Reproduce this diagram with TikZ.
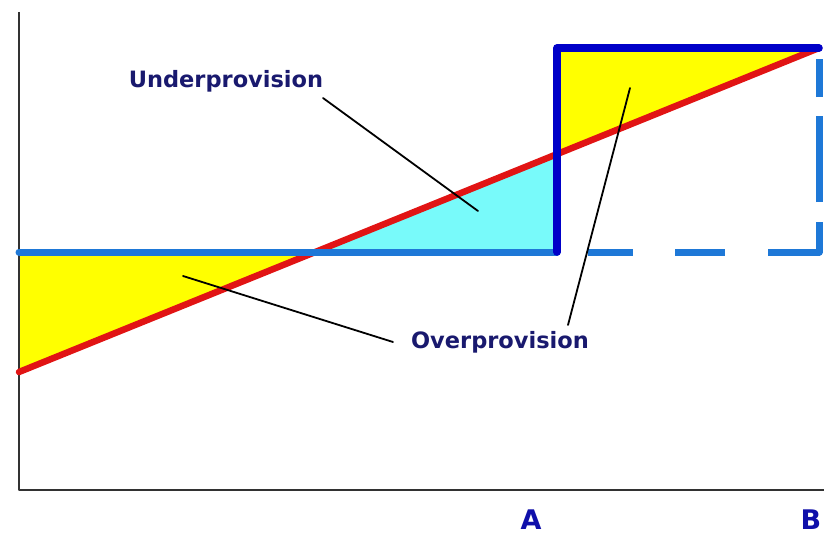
\documentclass[tikz,border=0pt]{standalone}
\usepackage{fontspec}
\newfontfamily\lblfont{DejaVu Sans}
\definecolor{axisgray}{RGB}{50,50,50}
\definecolor{baseblue}{RGB}{30,120,215}
\definecolor{stepblue}{RGB}{0,0,200}
\definecolor{demandred}{RGB}{225,20,20}
\definecolor{overfill}{RGB}{255,255,0}
\definecolor{underfill}{RGB}{120,250,250}
\definecolor{navytext}{RGB}{25,25,110}
\definecolor{marktext}{RGB}{15,15,170}
\tikzset{
    lab/.style={
        font=\lblfont\bfseries\fontsize{22.5}{26}\selectfont
    }
}

\begin{document}
\begin{tikzpicture}[x=1pt,y=-1pt, line cap=round, line join=round]

\tikzset{
  axis/.style={draw=axisgray, line width=2pt, line cap=butt},
  base/.style={draw=baseblue, line width=7pt},
  basedash/.style={draw=baseblue, line width=7pt, line cap=butt,
    dash pattern=on 45pt off 42pt on 50pt off 43pt on 81pt off 20pt on 86pt off 19pt on 38pt off 11pt},
  stepline/.style={draw=stepblue, line width=7.5pt},
  demand/.style={draw=demandred, line width=6.5pt},
  leader/.style={draw=black, line width=1.8pt},
  area/.style={lab, text=navytext, inner sep=0pt, anchor=base},
  pointlab/.style={font=\lblfont\bfseries\fontsize{27}{31}\selectfont, text=marktext, inner sep=0pt, anchor=base},
}

\useasboundingbox (0,0) rectangle (824,535);

% points
\coordinate (O) at (19,490);
\coordinate (Ytop) at (19,12);
\coordinate (Xend) at (824,490);
\coordinate (P) at (19,252);
\coordinate (D0) at (19,372);
\coordinate (X) at (315,252);
\coordinate (A) at (557,252);
\coordinate (Amid) at (557,154);
\coordinate (Atop) at (557,48);
\coordinate (B) at (819,48);
\coordinate (Bbase) at (819,252);
\coordinate (Dstart) at (588,252);

% shaded areas
\fill[overfill] (P) -- (X) -- (D0) -- cycle;
\fill[underfill] (X) -- (A) -- (Amid) -- cycle;
\fill[overfill] (Atop) -- (B) -- (Amid) -- cycle;

% axes
\draw[axis] (Ytop) -- (O) -- (Xend);

% demand line
\draw[demand] (D0) -- (B);

% capacity
\draw[base] (P) -- (A);
\draw[stepline] (A) -- (Atop) -- (B);
\draw[basedash] (Dstart) -- (Bbase) -- (B);

% labels
\node[area] (under) at (226,87) {Underprovision};
\node[area] (over) at (500,348) {Overprovision};
\node[pointlab] (labA) at (531,529) {A};
\node[pointlab] (labB) at (811,529) {B};

% leaders
\coordinate (u0) at (323,98);
\coordinate (u1) at (478,211);
\coordinate (o0) at (568,325);
\coordinate (o1) at (630,88);
\coordinate (o2) at (393,342);
\coordinate (o3) at (183,276);
\draw[leader] (u0) -- (u1);
\draw[leader] (o0) -- (o1);
\draw[leader] (o2) -- (o3);

\end{tikzpicture}
\end{document}
